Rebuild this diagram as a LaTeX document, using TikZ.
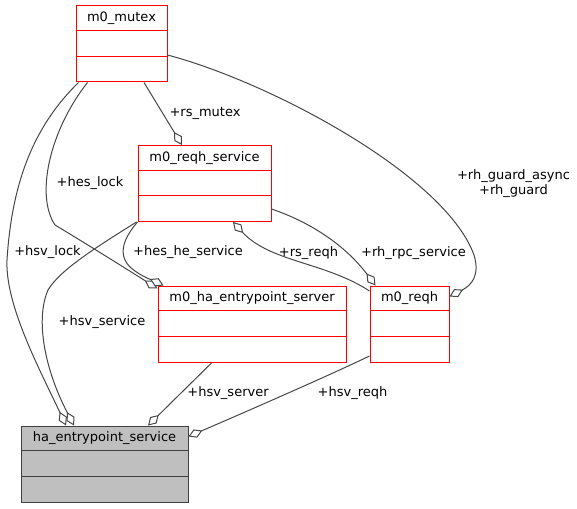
\documentclass[tikz,border=0pt]{standalone}
\usepackage{fontspec}
\setmainfont{DejaVu Sans}
\usetikzlibrary{arrows.meta,calc}
\begin{document}
\begin{tikzpicture}[x=1pt,y=-1pt,
  every node/.style={font=\fontsize{13}{15}\selectfont, inner sep=0pt},
  cls/.style={draw=red, line width=1pt, fill=white, minimum height=76pt},
  hcls/.style={draw=black!75, line width=1pt, fill=black!25, minimum height=76pt},
  ttl/.style={anchor=center},
  conn/.style={draw=black!72, line width=1pt, -{Diamond[fill=white, length=15pt, width=9pt]}},
  lbl/.style={anchor=center, align=center}
]
\useasboundingbox (0,0) rectangle (577,508);

% class boxes
\node[cls, minimum width=91pt] (mutex) at (121.5,44) {};
\node[cls, minimum width=133pt] (reqhs) at (204.5,183.5) {};
\node[cls, minimum width=188pt] (hes) at (252,324) {};
\node[cls, minimum width=79pt] (reqh) at (409.5,324) {};
\node[hcls, minimum width=167pt] (hsv) at (104.5,464) {};

\foreach \b/\c in {mutex/red, reqhs/red, hes/red, reqh/red, hsv/black!75} {
  \draw[draw=\c, line width=1pt] ($(\b.north west)+(0,25.3)$) -- ($(\b.north east)+(0,25.3)$);
  \draw[draw=\c, line width=1pt] ($(\b.north west)+(0,50.7)$) -- ($(\b.north east)+(0,50.7)$);
}

\node[ttl] (tmutex) at ($(mutex.north)+(0,12.7)$) {m0\_mutex};
\node[ttl] (treqhs) at ($(reqhs.north)+(0,12.7)$) {m0\_reqh\_service};
\node[ttl] (thes) at ($(hes.north)+(0,12.7)$) {m0\_ha\_entrypoint\_server};
\node[ttl] (treqh) at ($(reqh.north)+(0,12.7)$) {m0\_reqh};
\node[ttl] (thsv) at ($(hsv.north)+(0,12.7)$) {ha\_entrypoint\_service};

% connectors
\draw[conn] ($(mutex.south)+(22.5,0)$) -- ($(reqhs.north)+(-22.5,0)$);
\draw[conn] ($(mutex.east)+(0,11)$) .. controls (270,82) and (445,175) .. (474,255)
   .. controls (480,275) and (472,285) .. ($(reqh.north east)+(0,11)$);
\draw[conn] ($(mutex.south west)+(3,0)$) .. controls (35,125) and (12,180) .. (7,260)
   .. controls (5,305) and (40,370) .. ($(hsv.north)+(-38.5,0)$);
\draw[conn] ($(mutex.south west)+(12,0)$) .. controls (50,130) and (35,195) .. (55,225)
   .. controls (85,243) and (125,268) .. ($(hes.north west)+(0,3)$);
\draw[conn] ($(reqhs.south west)+(-1,0)$) .. controls (95,248) and (60,270) .. (48,290)
   .. controls (35,320) and (45,370) .. ($(hsv.north)+(-30.5,0)$);
\draw[conn] (reqhs.south west) .. controls (122,240) and (116,258) .. (135,271)
   .. controls (145,278) and (152,280) .. ($(hes.north west)+(6,0)$);
\draw[conn] ($(reqh.west)+(0,-33)$) .. controls (325,262) and (270,262) .. ($(reqhs.south)+(28.5,0)$);
\draw[conn] ($(reqhs.east)+(0,25.5)$) .. controls (310,222) and (345,245) .. ($(reqh.north west)+(6,0)$);
\draw[conn] ($(hes.south)+(-40,0)$) -- ($(hsv.north)+(43.5,0)$);
\draw[conn] ($(reqh.west)+(0,32)$) .. controls (330,375) and (250,410) .. ($(hsv.north east)+(0,11)$);

% labels
\node[lbl] (l1) at (205,113) {+rs\_mutex};
\node[lbl] (l2) at (513.5,183.5) {+rh\_guard\_async\\+rh\_guard};
\node[lbl] (l3) at (47.5,252) {+hsv\_lock};
\node[lbl] (l4) at (90,183) {+hes\_lock};
\node[lbl] (l5) at (188,252) {+hes\_he\_service};
\node[lbl] (l6) at (308.5,253) {+rs\_reqh};
\node[lbl] (l7) at (413.5,253) {+rh\_rpc\_service};
\node[lbl] (l8) at (102,322) {+hsv\_service};
\node[lbl] (l9) at (228,393) {+hsv\_server};
\node[lbl] (l10) at (352.5,393) {+hsv\_reqh};
\end{tikzpicture}
\end{document}
